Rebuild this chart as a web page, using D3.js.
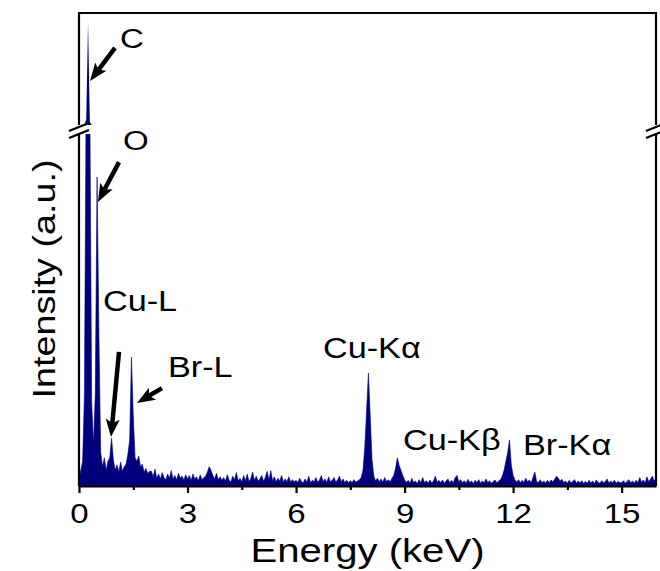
<!DOCTYPE html>
<html lang="en">
<head>
<meta charset="UTF-8">
<title>EDS spectrum</title>
<script src="https://d3js.org/d3.v7.min.js"></script>
<style>
  body { margin: 0; background: #fff; }
  svg text { font-family: "Liberation Sans", Arial, sans-serif; fill: #000; }
</style>
</head>
<body>
<svg id="chart" width="660" height="571"></svg>
<script>
// spectrum: one value per 0.05 keV channel, one row per keV
const channelWidth = 0.05;
const counts = [
  20, 45, 70, 260, 1150, 3730, 1080, 240, 120, 260, 878, 430, 95, 55, 80, 45, 70, 80, 136, 75,      // 0
  45, 60, 40, 68, 42, 55, 62, 90, 130, 366, 200, 80, 70, 85, 55, 62, 40, 50, 35, 42,                // 1
  42, 26, 48, 22, 34, 20, 38, 24, 18, 34, 22, 44, 20, 30, 18, 36, 22, 28, 17, 32,                   // 2
  20, 30, 16, 34, 20, 26, 15, 32, 18, 24, 28, 40, 55, 44, 30, 20, 36, 18, 26, 16,                   // 3
  24, 14, 32, 16, 12, 28, 18, 38, 14, 22, 12, 30, 15, 34, 13, 22, 40, 16, 28, 14,                   // 4
  20, 30, 14, 24, 42, 16, 44, 15, 26, 12, 22, 14, 30, 12, 20, 13, 26, 11, 18, 12,                   // 5
  16, 10, 22, 12, 9, 20, 11, 28, 10, 16, 12, 24, 10, 18, 30, 12, 20, 10, 26, 12,                    // 6
  16, 24, 11, 18, 28, 12, 20, 10, 16, 9, 15, 10, 18, 11, 14, 18, 24, 45, 110, 215,                  // 7
  321, 200, 75, 28, 14, 22, 12, 20, 11, 24, 13, 18, 12, 22, 30, 50, 80, 58, 45, 30,                 // 8
  18, 10, 16, 8, 22, 10, 14, 7, 18, 9, 24, 10, 15, 8, 17, 9, 14, 28, 11, 16,                        // 9
  9, 17, 8, 14, 20, 9, 16, 10, 24, 30, 12, 18, 9, 15, 8, 19, 10, 14, 7, 16,                         // 10
  10, 18, 8, 14, 9, 20, 10, 15, 8, 13, 17, 9, 14, 18, 28, 45, 70, 95, 131, 60,                      // 11
  30, 18, 11, 18, 9, 16, 10, 22, 12, 17, 9, 24, 40, 13, 10, 18, 9, 14, 8, 16,                       // 12
  10, 17, 12, 20, 28, 22, 14, 19, 10, 14, 8, 16, 9, 13, 18, 8, 14, 9, 15, 7,                        // 13
  13, 8, 16, 9, 14, 7, 17, 10, 8, 15, 9, 13, 20, 8, 14, 9, 16, 8, 13, 10,                           // 14
  9, 15, 8, 13, 18, 9, 14, 8, 16, 10, 24, 11, 17, 9, 26, 12, 20, 28, 14, 22                         // 15
];

const majorTicks = [0, 3, 6, 9, 12, 15];
const minorTicks = [1.5, 4.5, 7.5, 10.5, 13.5];

// peak labels: energy (keV) and intensity of the text's left baseline point
const peakLabels = [
  { text: "C",     e: 1.133, v: 3063, panel: "upper", size: 28 },
  { text: "O",     e: 1.216, v: 955,  panel: "lower", size: 28 },
  { text: "Cu-L",  e: 0.663, v: 497,  panel: "lower", size: 29 },
  { text: "Br-L",  e: 2.460, v: 310,  panel: "lower", size: 29 },
  { text: "Cu-Kα", e: 6.745, v: 364,  panel: "lower", size: 29 },
  { text: "Cu-Kβ", e: 8.956, v: 102,  panel: "lower", size: 29 },
  { text: "Br-Kα", e: 12.273, v: 88,  panel: "lower", size: 29 }
];

// arrows: tail -> tip, in (keV, intensity)
const arrows = [
  { from: [0.995, 3063], to: [0.304, 2179], panel: "upper" },
  { from: [1.106, 920],  to: [0.525, 807],  panel: "lower" },
  { from: [1.106, 381],  to: [0.885, 139],  panel: "lower" },
  { from: [2.294, 278],  to: [1.603, 236],  panel: "lower" }
];

const svg = d3.select("#chart");
const stretch = 1.18;   // the figure's lettering is a bit wider than Arial
const navy = "#00007f";

const x = d3.scaleLinear().domain([0, 15.95]).range([79, 656]);
const yLow = d3.scaleLinear().domain([0, 1000]).range([486, 134]);
const yUp = d3.scaleLinear().domain([1000, 4000]).range([125, 13]);
const yOf = { lower: yLow, upper: yUp };

const spectrum = counts.map((v, i) => ({ e: i * channelWidth, v: v }));

const defs = svg.append("defs");
defs.append("clipPath").attr("id", "clipLow").append("rect")
  .attr("x", 79).attr("y", 134).attr("width", 577).attr("height", 352);
defs.append("clipPath").attr("id", "clipUp").append("rect")
  .attr("x", 79).attr("y", 13).attr("width", 577).attr("height", 112);

// lower panel
svg.append("path")
  .datum(spectrum)
  .attr("clip-path", "url(#clipLow)")
  .attr("fill", navy)
  .attr("stroke", navy)
  .attr("stroke-width", 0.6)
  .attr("d", d3.area()
    .x(d => x(d.e))
    .y0(yLow(0))
    .y1(d => yLow(d.v)));

// upper panel (only what is above the break)
svg.append("path")
  .datum(spectrum)
  .attr("clip-path", "url(#clipUp)")
  .attr("fill", navy)
  .attr("d", d3.area()
    .x(d => x(d.e))
    .y0(yUp(1000))
    .y1(d => yUp(Math.max(d.v, 1000))));

// x axis
const xAxis = svg.append("g")
  .attr("transform", `translate(0,${yLow(0)})`)
  .call(d3.axisBottom(x).tickValues(majorTicks).tickSize(7).tickSizeOuter(0)
    .tickPadding(10).tickFormat(d3.format("d")));
xAxis.select(".domain").attr("stroke-width", 2.2);
xAxis.selectAll(".tick line").attr("stroke-width", 2.2);
xAxis.selectAll(".tick text")
  .attr("font-size", 28)
  .attr("font-family", "Liberation Sans, Arial, sans-serif")
  .attr("transform", `scale(${stretch},1)`);

svg.append("g")
  .attr("transform", `translate(0,${yLow(0)})`)
  .call(d3.axisBottom(x).tickValues(minorTicks).tickSize(4).tickSizeOuter(0).tickFormat(""))
  .call(g => g.select(".domain").remove())
  .selectAll(".tick line").attr("stroke-width", 2.2);

// frame with broken left and right axes
const frame = svg.append("g").attr("stroke", "#000").attr("stroke-width", 2.2).attr("fill", "none");
frame.append("line").attr("x1", 78).attr("x2", 657).attr("y1", 13).attr("y2", 13);
[79, 656].forEach(ax => {
  frame.append("line").attr("x1", ax).attr("x2", ax).attr("y1", 12).attr("y2", yUp.range()[0]);
  frame.append("line").attr("x1", ax).attr("x2", ax).attr("y1", yLow.range()[1]).attr("y2", yLow(0));
  [127, 134].forEach(cy => {
    frame.append("line")
      .attr("x1", ax - 10).attr("y1", cy + 4)
      .attr("x2", ax + 10).attr("y2", cy - 4);
  });
});

// axis titles
svg.append("text")
  .attr("transform", `translate(${(x.range()[0] + x.range()[1]) / 2},562) scale(${stretch},1)`)
  .attr("text-anchor", "middle")
  .attr("font-size", 34)
  .text("Energy (keV)");

svg.append("text")
  .attr("transform", `translate(55,279) rotate(-90) scale(${stretch},1)`)
  .attr("text-anchor", "middle")
  .attr("font-size", 32)
  .text("Intensity (a.u.)");

// peak labels
svg.selectAll(".peak-label")
  .data(peakLabels)
  .enter()
  .append("text")
  .attr("class", "peak-label")
  .attr("transform", d => `translate(${x(d.e)},${yOf[d.panel](d.v)}) scale(${stretch},1)`)
  .attr("font-size", d => d.size)
  .text(d => d.text);

// arrows
function drawArrow(x1, y1, x2, y2) {
  const len = Math.hypot(x2 - x1, y2 - y1);
  const ux = (x2 - x1) / len, uy = (y2 - y1) / len;
  const px = -uy, py = ux;
  const headLen = 18, headW = 7, notch = 4;
  const bx = x2 - ux * headLen, by = y2 - uy * headLen;
  const nx = bx + ux * notch, ny = by + uy * notch;
  svg.append("line")
    .attr("x1", x1).attr("y1", y1).attr("x2", nx).attr("y2", ny)
    .attr("stroke", "#000").attr("stroke-width", 4.5);
  svg.append("path")
    .attr("d", `M${x2},${y2}L${bx + px * headW},${by + py * headW}L${nx},${ny}L${bx - px * headW},${by - py * headW}Z`)
    .attr("fill", "#000");
}

arrows.forEach(a => {
  const yS = yOf[a.panel];
  drawArrow(x(a.from[0]), yS(a.from[1]), x(a.to[0]), yS(a.to[1]));
});
</script>
</body>
</html>
